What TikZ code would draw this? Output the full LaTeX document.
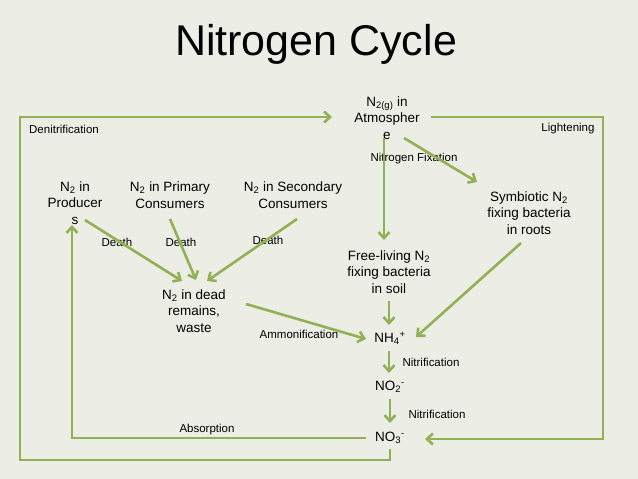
\documentclass[tikz,border=0pt]{standalone}
\usepackage{fontspec}
\setmainfont{Liberation Sans}
\usetikzlibrary{arrows.meta}
\definecolor{bg}{RGB}{236,237,229}
\definecolor{gr}{RGB}{146,176,86}
\begin{document}
\begin{tikzpicture}[x=1pt,y=-1pt,
  lbl/.style={font=\fontsize{13.5}{16.5}\selectfont,align=center,inner sep=0pt},
  sm/.style={font=\fontsize{11.5}{12}\selectfont,inner sep=0pt},
  ar/.style={draw=gr,line width=2.6pt,-{Straight Barb[length=6pt,width=11pt]}},
  ln/.style={draw=gr,line width=2.6pt}]
\fill[bg] (0,0) rectangle (638,479);
\useasboundingbox (0,0) rectangle (638,479);
\node[font=\fontsize{43}{46}\selectfont] (title) at (316,44) {Nitrogen Cycle};
\node[lbl] (atm) at (387,118) {N\textsubscript{2(g)} in\\Atmospher\\e};
\node[lbl] (prod) at (75,203) {N\textsubscript{2} in\\Producer\\s};
\node[lbl] (prim) at (170,195) {N\textsubscript{2} in Primary\\Consumers};
\node[lbl] (sec) at (293,195) {N\textsubscript{2} in Secondary\\Consumers};
\node[lbl] (sym) at (529,213) {Symbiotic N\textsubscript{2}\\fixing bacteria\\in roots};
\node[lbl] (free) at (389,272) {Free-living N\textsubscript{2}\\fixing bacteria\\in soil};
\node[lbl] (dead) at (194,311) {N\textsubscript{2} in dead\\remains,\\waste};
\node[lbl] (nh4) at (390,338) {NH\textsubscript{4}\textsuperscript{+}};
\node[lbl] (no2) at (390,387) {NO\textsubscript{2}\textsuperscript{-}};
\node[lbl] (no3) at (390,438) {NO\textsubscript{3}\textsuperscript{-}};
\node[sm] (l1) at (64,129) {Denitrification};
\node[sm] (l2) at (568,129) {Lightening};
\node[sm] (l3) at (414,159) {Nitrogen Fixation};
\node[sm] (l4) at (117,242) {Death};
\node[sm] (l5) at (181,242) {Death};
\node[sm] (l6) at (268,240) {Death};
\node[sm] (l7) at (299,334) {Ammonification};
\node[sm] (l8) at (431,362) {Nitrification};
\node[sm] (l9) at (437,414) {Nitrification};
\node[sm] (l10) at (207,430) {Absorption};
\coordinate (a1) at (390,449);
\coordinate (a2) at (20,460);
\coordinate (a3) at (20,117);
\coordinate (a4) at (332,117);
\coordinate (b1) at (431,117);
\coordinate (b2) at (603,117);
\coordinate (b3) at (603,439);
\coordinate (b4) at (425,439);
\coordinate (c1) at (366,438);
\coordinate (c2) at (72,438);
\coordinate (c3) at (72,225);
\draw[ar] (a1) |- (a2) -- (a3) -- (a4);
\draw[ar] (b1) -- (b2) -- (b3) -- (b4);
\draw[ar] (c1) -- (c2) -- (c3);
\draw[ar] (384,138) -- (384,240);
\draw[ar] (404,138) -- (477,182);
\draw[ar] (389,301) -- (389,325);
\draw[ar] (521,243) -- (416,337);
\draw[ar] (389,351) -- (389,373);
\draw[ar] (390,399) -- (390,423);
\draw[ar] (85,220) -- (182,281);
\draw[ar] (170,219) -- (196,280);
\draw[ar] (297,219) -- (207,281);
\draw[ar] (246,304) -- (366,339);
\end{tikzpicture}
\end{document}
